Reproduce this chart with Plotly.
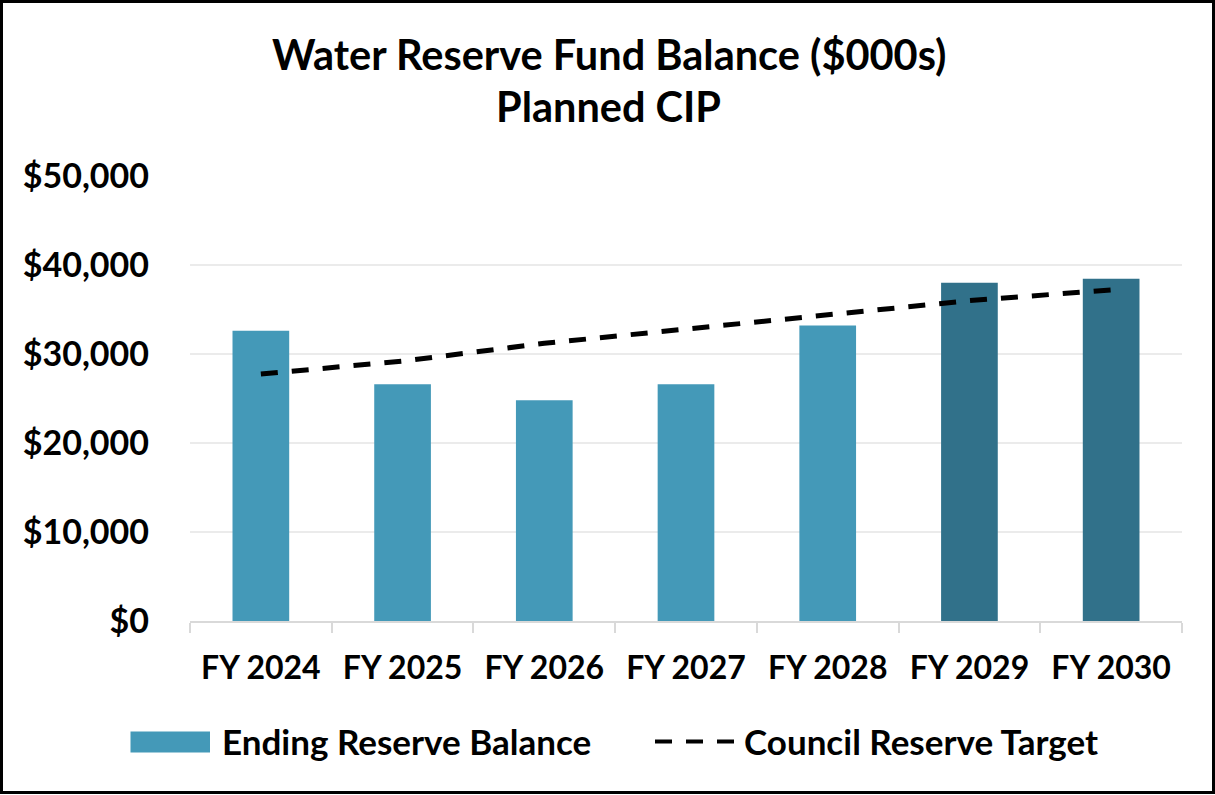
import plotly.graph_objects as go

# ---------------- data ----------------
categories = ["FY 2024", "FY 2025", "FY 2026", "FY 2027", "FY 2028", "FY 2029", "FY 2030"]
ending_reserve_balance = [32600, 26600, 24800, 26600, 33200, 38000, 38450]
council_reserve_target = [27750, 29200, 31200, 32800, 34400, 36000, 37200]
y_tick_values = [0, 10000, 20000, 30000, 40000, 50000]
y_tick_labels = ["$0", "$10,000", "$20,000", "$30,000", "$40,000", "$50,000"]
title_lines = ["Water Reserve Fund Balance ($000s)", "Planned CIP"]
legend_labels = ["Ending Reserve Balance", "Council Reserve Target"]

# ---------------- style ----------------
LIGHT = "#4499B8"
DARK = "#31718A"
bar_colors = [LIGHT] * 5 + [DARK] * 2
FONT = "Lato"
W, H = 1215, 795
ML, MR, MT, MB = 190, 33, 176, 174
PW, PH = W - ML - MR, H - MT - MB


def px(x):
    return (x - ML) / PW


def py(y):
    return (H - MB - y) / PH


fig = go.Figure()
fig.add_trace(go.Bar(
    x=categories, y=ending_reserve_balance, name=legend_labels[0],
    marker=dict(color=bar_colors, line=dict(width=0)), showlegend=False,
))
fig.add_trace(go.Scatter(
    x=categories, y=council_reserve_target, name=legend_labels[1], mode="lines",
    line=dict(color="black", width=5, dash="17px,14px"), showlegend=False,
))

annotations = [
    dict(text=title_lines[0], x=px(608.5), y=py(54)),
    dict(text=title_lines[1], x=px(608.5), y=py(106)),
]
for a in annotations:
    a.update(xref="paper", yref="paper", xanchor="center", yanchor="middle", showarrow=False,
             font=dict(family=FONT, size=41.5, color="black", weight="bold"))

annotations += [
    dict(text=legend_labels[0], x=px(220), y=py(741)),
    dict(text=legend_labels[1], x=px(742), y=py(741)),
]
for a in annotations[2:]:
    a.update(xref="paper", yref="paper", xanchor="left", yanchor="middle", showarrow=False,
             font=dict(family=FONT, size=35, color="black", weight="bold"))

shapes = [
    dict(type="rect", xref="paper", yref="paper", x0=px(130.5), x1=px(210), y0=py(752.5), y1=py(731.5),
         fillcolor=LIGHT, line=dict(width=0)),
    dict(type="line", xref="paper", yref="paper", x0=px(655), x1=px(735), y0=py(741.5), y1=py(741.5),
         line=dict(color="black", width=4, dash="17px,14px")),
    dict(type="rect", xref="paper", yref="paper", x0=px(1.5), x1=px(1213.5), y0=py(792.5), y1=py(1.5),
         line=dict(color="black", width=3), fillcolor="rgba(0,0,0,0)"),
]

fig.update_layout(
    width=W, height=H, autosize=False,
    margin=dict(l=ML, r=MR, t=MT, b=MB, pad=0),
    paper_bgcolor="white", plot_bgcolor="white",
    bargap=0.6,
    showlegend=False,
    annotations=annotations,
    shapes=shapes,
    font=dict(family=FONT, color="black"),
)
fig.update_xaxes(
    type="category",
    showline=True, linecolor="#D9D9D9", linewidth=2,
    ticks="outside", tickson="boundaries", ticklen=10, tickcolor="#D9D9D9", tickwidth=2,
    tickfont=dict(family=FONT, size=32, color="black", weight="bold"),
    ticklabelstandoff=18,
    showgrid=False, zeroline=False,
)
fig.update_yaxes(
    range=[0, 50000], tickvals=y_tick_values, ticktext=y_tick_labels,
    showgrid=True, gridcolor="#EBEBEB", gridwidth=2,
    zeroline=False, showline=False, ticks="",
    tickfont=dict(family=FONT, size=34, color="black", weight="bold"),
    ticklabelstandoff=40,
)

fig.write_html("out.html", config={"displayModeBar": False},
               post_script="document.body.style.margin='0';")
